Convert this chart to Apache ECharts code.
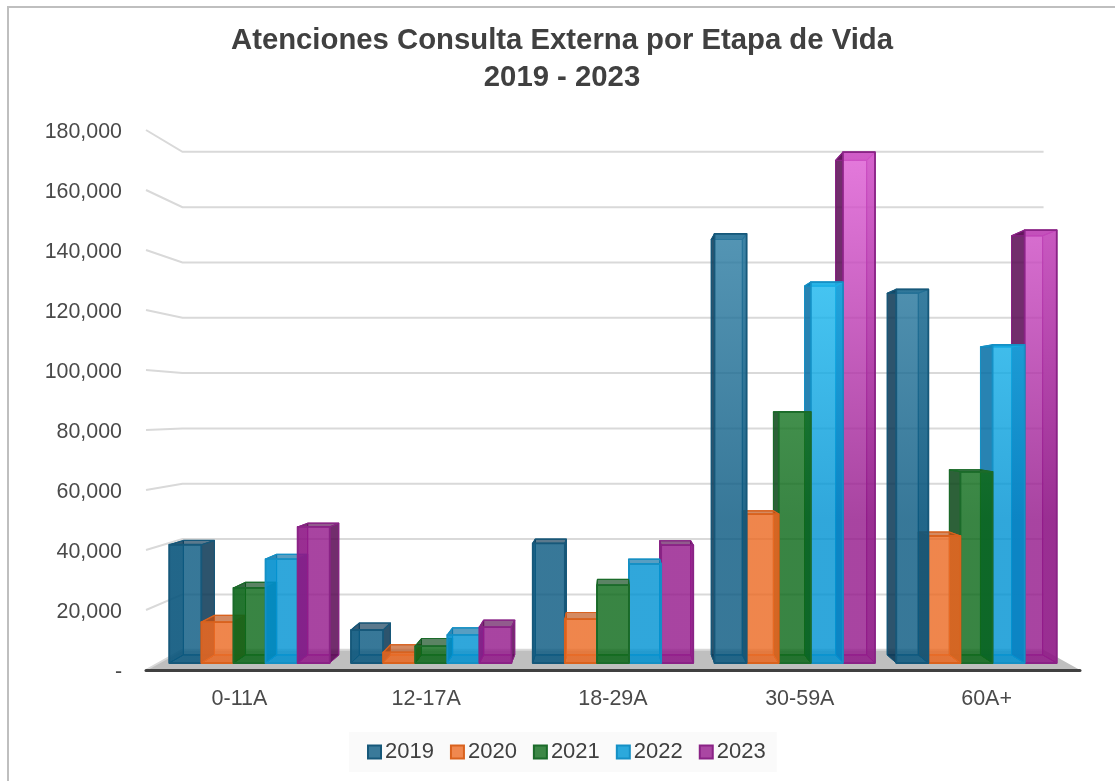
<!DOCTYPE html>
<html>
<head>
<meta charset="utf-8">
<title>Atenciones Consulta Externa</title>
<script src="https://cdn.jsdelivr.net/npm/echarts@6/dist/echarts.min.js"></script>
<style>
html, body { margin: 0; padding: 0; background: #fff; }
#main { width: 1115px; height: 781px; }
</style>
</head>
<body>
<div id="main"></div>
<script>
// datos
var categories = ['0-11A', '12-17A', '18-29A', '30-59A', '60A+'];
var years = ['2019', '2020', '2021', '2022', '2023'];
var values2019 = [40500, 11300, 41000, 147000, 128000];
var values2020 = [14000, 3600, 15000, 51000, 43500];
var values2021 = [25700, 5800, 26700, 86000, 65500];
var values2022 = [35600, 9600, 33900, 130500, 109000];
var values2023 = [46600, 12300, 40400, 175000, 148300];
var yTicks = [0, 20000, 40000, 60000, 80000, 100000, 120000, 140000, 160000, 180000];
var allValues = [values2019, values2020, values2021, values2022, values2023];

// colores: borde, lado oscuro, relleno abajo, relleno arriba
var lineColors = ['#16587a', '#d9621e', '#1b6b2a', '#1590c5', '#8a2386'];
var darkColors = ['10,55,85', '190,80,20', '10,70,25', '5,110,165', '90,10,85'];
var fillBottom = ['9,89,129', '236,106,35', '11,105,24', '0,147,211', '149,25,140'];
var fillTop = ['55,136,174', '255,149,74', '49,149,61', '42,205,255', '224,92,214'];
var legendColors = ['#3a7a9a', '#f0884f', '#3c8746', '#2ba9dc', '#aa47a3'];

// perspectiva del 3D de Excel
var horizonValue = 86700;   // valor del eje a la altura del punto de fuga
var depthFront = 0.973;     // cara frontal de la barra
var depthBack = 0.942;      // cara trasera de la barra
var depthWall = 0.922;      // pared del fondo
var barShare = 0.883;       // parte de la categoria que ocupan las 5 barras

var chart = echarts.init(document.getElementById('main'));

function vanish(api) {
    return [api.coord([2, 0])[0], api.coord([2, horizonValue])[1]];
}
function project(v, p, s) {
    return [v[0] + (p[0] - v[0]) * s, v[1] + (p[1] - v[1]) * s];
}

function renderWall(params, api) {
    var v = vanish(api);
    var sys = params.coordSys;
    var y = api.coord([0, api.value(1)])[1];
    var a = [sys.x, y];
    var b = [sys.x + sys.width, y];
    return {
        type: 'polyline',
        shape: { points: [a, project(v, a, depthWall), project(v, b, depthWall)] },
        style: { fill: null, stroke: '#d9d9d9', lineWidth: 2 }
    };
}

function renderFloor(params, api) {
    var v = vanish(api);
    var sys = params.coordSys;
    var y = api.coord([0, 0])[1];
    var a = [sys.x, y];
    var b = [sys.x + sys.width, y];
    return {
        type: 'polygon',
        shape: { points: [a, b, project(v, b, depthWall), project(v, a, depthWall)] },
        style: { fill: '#bfbfbf' }
    };
}

function makeBar(idx) {
    return function (params, api) {
        var v = vanish(api);
        var band = api.size([1, 0])[0];
        var w = band * barShare / 5;
        var cx = api.coord([api.value(0), 0])[0] + (idx - 2) * w;
        var y0 = api.coord([0, 0])[1];
        var y1 = api.coord([0, api.value(1)])[1];
        var tl = [cx - w / 2, y1], tr = [cx + w / 2, y1];
        var bl = [cx - w / 2, y0], br = [cx + w / 2, y0];
        var f = function (p) { return project(v, p, depthFront); };
        var k = function (p) { return project(v, p, depthBack); };
        var line = lineColors[idx];
        var dark = darkColors[idx];
        var grad = new echarts.graphic.LinearGradient(0, 150, 0, 520, [
            { offset: 0, color: 'rgba(' + fillTop[idx] + ',0.8)' },
            { offset: 1, color: 'rgba(' + fillBottom[idx] + ',0.8)' }
        ], true);
        // las barras mas cercanas al centro tapan a las de afuera
        var order = Math.round(1000 - Math.abs(cx - v[0]));
        var poly = function (pts, fill, stroke, lw) {
            return {
                type: 'polygon',
                z2: order,
                shape: { points: pts },
                style: { fill: fill, stroke: stroke, lineWidth: lw, lineJoin: 'round' }
            };
        };
        // el lado hacia el centro se ve por fuera, el otro a traves del frente
        var leftOuter = cx > v[0];
        var leftAlpha = leftOuter ? 0.85 : 0.5;
        var rightAlpha = leftOuter ? 0.5 : 0.85;
        return {
            type: 'group',
            children: [
                poly([k(tl), k(tr), k(br), k(bl)], 'rgba(' + dark + ',0.06)', line, 1),
                poly([f(bl), f(br), k(br), k(bl)], 'rgba(' + dark + ',0.3)', line, 1),
                poly([f(tl), f(bl), k(bl), k(tl)], 'rgba(' + dark + ',' + leftAlpha + ')', line, 1),
                poly([f(tr), f(br), k(br), k(tr)], 'rgba(' + dark + ',' + rightAlpha + ')', line, 1),
                poly([f(tl), f(tr), k(tr), k(tl)], 'rgba(' + dark + ',0.65)', line, 1.2),
                poly([f(tl), f(bl), f(br), f(tr)], grad, line, 1.8)
            ]
        };
    };
}

var series = [
    {
        name: 'piso',
        type: 'custom',
        renderItem: renderFloor,
        data: [[0, 0]],
        silent: true,
        z: 1
    },
    {
        name: 'paredes',
        type: 'custom',
        renderItem: renderWall,
        data: yTicks.map(function (t) { return [0, t]; }),
        silent: true,
        z: 1
    }
];
years.forEach(function (y, i) {
    series.push({
        name: y,
        type: 'custom',
        renderItem: makeBar(i),
        itemStyle: { color: legendColors[i], borderColor: lineColors[i], borderWidth: 1.5 },
        encode: { x: 0, y: 1 },
        data: allValues[i].map(function (val, c) { return [c, val]; }),
        z: 2
    });
});

var option = {
    animation: false,
    backgroundColor: '#fff',
    textStyle: { fontFamily: '"Liberation Sans", Arial, sans-serif' },
    title: {
        text: 'Atenciones Consulta Externa por Etapa de Vida\n2019 - 2023',
        left: 557,
        top: 17,
        textAlign: 'center',
        textStyle: {
            fontFamily: '"Liberation Sans", Arial, sans-serif',
            fontSize: 29.3,
            fontWeight: 'bold',
            color: '#404040',
            lineHeight: 37
        }
    },
    legend: {
        data: years,
        left: 349,
        top: 732,
        padding: [9, 11, 9, 18],
        backgroundColor: '#fafafa',
        icon: 'rect',
        itemWidth: 13,
        itemHeight: 13,
        itemGap: 16,
        selectedMode: false,
        textStyle: { fontSize: 22, color: '#404040', padding: [3, 0, 0, -1] }
    },
    grid: { left: 146, right: 35, top: 130, bottom: 111 },
    xAxis: {
        type: 'category',
        data: categories,
        axisLine: { show: true, lineStyle: { color: '#404040', width: 3 } },
        axisTick: { show: false },
        axisLabel: { fontSize: 21.5, color: '#4a4a4a', margin: 18 },
        z: 5
    },
    yAxis: {
        type: 'value',
        min: 0,
        max: 180000,
        interval: 20000,
        axisLine: { show: false },
        axisTick: { show: false },
        splitLine: { show: false },
        axisLabel: {
            fontSize: 21.4,
            color: '#4a4a4a',
            margin: 24,
            verticalAlign: 'top',
            lineHeight: 5,
            formatter: function (val) {
                return val === 0 ? '-' : val.toLocaleString('en-US');
            }
        }
    },
    graphic: [{
        type: 'rect',
        left: 7,
        top: 6,
        shape: { width: 1300, height: 1000 },
        style: { fill: 'transparent', stroke: '#bfbfbf', lineWidth: 2 },
        silent: true
    }],
    series: series
};
chart.setOption(option);
</script>
</body>
</html>
